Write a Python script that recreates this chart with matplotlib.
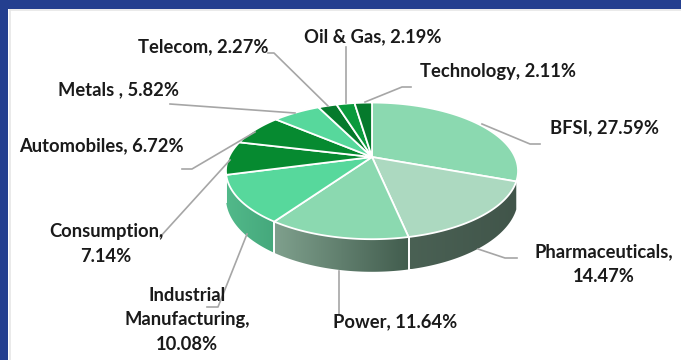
import numpy as np
import matplotlib
matplotlib.use("Agg")
import matplotlib.pyplot as plt
from matplotlib.patches import Polygon
from matplotlib.colors import LinearSegmentedColormap

# sector allocation
sectors = ["BFSI", "Pharmaceuticals", "Power", "Industrial\nManufacturing", "Consumption",
           "Automobiles", "Metals ", "Telecom", "Oil & Gas", "Technology"]
weights = [27.59, 14.47, 11.64, 10.08, 7.14, 6.72, 5.82, 2.27, 2.19, 2.11]
top_colors = ["#8bd9b0", "#acd9c0", "#8bd9b0", "#57d89c", "#068a30",
              "#068a30", "#57d89c", "#057a2c", "#0a9a3c", "#057a2c"]

# wall gradients for the slices facing the viewer
wall_colors = {1: ("#4a6154", "#41554a"), 2: ("#7fa08d", "#425d4e"), 3: ("#52b98a", "#45a87c")}

# label centre (px), break the value onto its own line or not
label_pos = [(604, 128), (604, 264), (395, 322), (187, 320), (106, 244),
             (101, 146), (118, 90), (203, 47), (373, 37), (498, 72)]
label_newline = [False, True, False, True, True, False, False, False, False, False]

# leader lines (px)
leaders = [[(482, 124), (530, 144), (540, 144)],
           [(478, 249), (505, 258), (517, 258)],
           [(339, 271), (339, 314)],
           [(247, 234), (218, 307), (207, 307)],
           [(230, 160), (160, 237)],
           [(255, 132), (192, 169), (182, 169)],
           [(295, 113), (170, 104)],
           [(328, 106), (274, 53), (268, 53)],
           [(346, 103), (346, 47)],
           [(365, 102), (402, 87), (411, 87)]]

# disc projection
cx, cy = 372, 157
rx, ry = 143, 65.5
persp = 0.203
depth = 26


def project(theta, drop=0.0):
    # theta is clockwise from the back of the disc, k pulls the front edge toward the viewer
    u = np.sin(theta)
    w = -np.cos(theta)
    scale = 1 - persp * w
    return cx + rx * u / scale, cy + (ry * w + drop) / scale


fig = plt.figure(figsize=(6.81, 3.60), dpi=100)
ax = fig.add_axes([0, 0, 1, 1])
ax.set_xlim(0, 681)
ax.set_ylim(360, 0)
ax.axis("off")
fig.patch.set_facecolor("#ffffff")

# blue frame
ax.fill([0, 681, 681, 0], [0, 0, 9, 9], color="#243f8f", lw=0)
ax.fill([0, 8, 8, 0], [0, 0, 360, 360], color="#243f8f", lw=0)
ax.plot([9.5, 9.5], [10, 360], color="#e6e6e6", lw=1.2)
ax.plot([9.5, 681], [10, 10], color="#e6e6e6", lw=1.2)

edges = np.cumsum([0] + weights) / np.sum(weights) * 2 * np.pi

# side walls first, then the top face
for i, (c0, c1) in wall_colors.items():
    t = np.linspace(edges[i], edges[i + 1], 60)
    x0, y0 = project(t)
    x1, y1 = project(t[::-1], depth)
    pts = np.column_stack([np.r_[x0, x1], np.r_[y0, y1]])
    poly = Polygon(pts, closed=True, fc="none", ec="none", transform=ax.transData)
    ax.add_patch(poly)
    cmap = LinearSegmentedColormap.from_list("wall", [c0, c1])
    img = ax.imshow(np.linspace(0, 1, 128)[None, :], cmap=cmap, aspect="auto",
                    extent=(pts[:, 0].min(), pts[:, 0].max(), pts[:, 1].max(), pts[:, 1].min()),
                    zorder=1)
    img.set_clip_path(poly)
    ax.plot(pts[[59, 60], 0], pts[[59, 60], 1], color="white", lw=1.4, zorder=2)
ax.set_xlim(0, 681)
ax.set_ylim(360, 0)

for i, color in enumerate(top_colors):
    t = np.linspace(edges[i], edges[i + 1], 60)
    x, y = project(t)
    ax.fill(np.r_[cx, x], np.r_[cy, y], fc=color, ec="white", lw=1.3, joinstyle="round", zorder=3)

for pts in leaders:
    xs, ys = zip(*pts)
    ax.plot(xs, ys, color="#a6a6a6", lw=1.2, zorder=4)

for name, value, (lx, ly), wrap in zip(sectors, weights, label_pos, label_newline):
    sep = ",\n" if wrap else ", "
    ax.text(lx, ly, f"{name}{sep}{value:.2f}%", ha="center", va="center", ma="center",
            family="Lato", fontweight="bold", fontsize=13.2, color="#1a1a1a",
            linespacing=1.55, zorder=5)

fig.savefig("out.png", dpi=100)
